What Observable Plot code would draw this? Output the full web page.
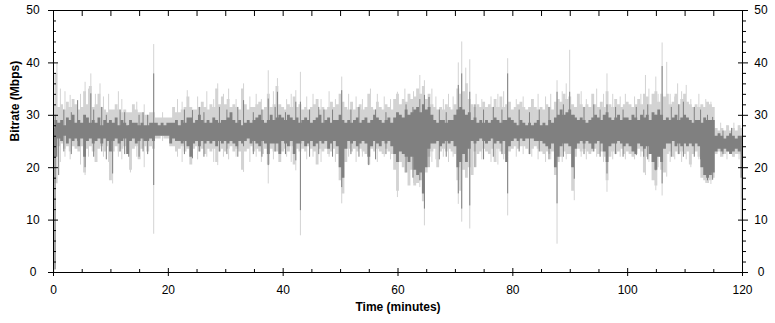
<!DOCTYPE html>
<html>
<head>
<meta charset="utf-8">
<script src="https://cdn.jsdelivr.net/npm/d3@7"></script>
<script src="https://cdn.jsdelivr.net/npm/@observablehq/plot@0.6"></script>
<style>
  html, body { margin: 0; padding: 0; background: #fff; }
  #chart svg { display: block; }
</style>
</head>
<body>
<div id="chart"></div>
<script>
// Sample spacing of the band arrays (minutes)
const STEP = 0.5;

// Dark series: upper and lower envelope per half-minute (Mbps)
const darkHi = [
  27.5, 29, 28.5, 29, 28, 29.5, 29, 30, 28.5, 29, 28.5, 30, 29.5, 28.5, 29, 28.5, 29.5, 28, 29, 28.5,
  29, 28.5, 29.5, 28, 29, 28.5, 28, 29, 28.5, 28.5, 28, 28.5, 28, 28, 28.5, 28.5, 28.5, 28, 28.5, 28,
  28.5, 28.5, 28.5, 29, 28, 29, 28.5, 29.5, 29.5, 28.5, 29, 30, 29, 28.5, 29, 28.5, 29.5, 29, 28.5, 29,
  29, 29.5, 30.5, 29, 28.5, 29, 28, 28.5, 29, 28.5, 29, 29.5, 30, 29, 28.5, 29, 30, 29, 29.5, 30,
  29.5, 29, 30, 29.5, 29, 29.5, 28.5, 29, 29.5, 29, 28.5, 29, 29.5, 30, 28.5, 29, 29.5, 28.5, 29, 29,
  30, 29, 28.5, 29, 28.5, 29, 29.5, 28.5, 29, 29.5, 28.5, 29, 30, 29.5, 29, 28.5, 29, 29.5, 28.5, 29.5,
  30.5, 30, 29.5, 31, 30, 30.5, 31, 31.5, 30.5, 32, 31, 31.5, 30, 29, 28.5, 29, 29, 28.5, 29, 29,
  30, 31, 31.5, 31, 30, 30.5, 29, 29.5, 28.5, 29, 28.5, 29, 28.5, 29, 29.5, 29, 28.5, 29, 29, 29.5,
  29, 28.5, 28, 29, 28.5, 28, 28.5, 28, 28.5, 29, 28, 28.5, 28, 29, 28.5, 29.5, 30, 31, 30, 30.5,
  31, 30, 29.5, 29, 29.5, 29, 28.5, 29, 29.5, 30, 29.5, 29, 30, 30.5, 29.5, 29, 29.5, 30, 29, 29.5,
  29.5, 29, 30, 29.5, 29, 30, 29.5, 30, 29, 30.5, 30, 31, 30, 29, 29.5, 29, 29.5, 30, 29, 29.5,
  30, 29.5, 29, 28.5, 29, 29, 28.5, 29.5, 29, 29, 29, 26, 26.5, 26, 25.5, 26, 26.5, 26, 25.5, 26,
  26
];
const darkLo = [
  0.5, 22, 25.5, 25, 26, 24.5, 25.5, 25, 25.5, 24, 25.5, 22, 25, 25.5, 24.5, 25, 25.5, 24.5, 25.5, 25,
  23, 25, 25.5, 24.5, 25, 25.5, 22.5, 25, 25.5, 24.5, 25, 25.5, 25, 25, 25.5, 25, 26, 26, 26, 26,
  26, 24.5, 25.5, 25, 25, 24.5, 25, 24, 22, 24.5, 25, 24, 25, 24.5, 25, 24.5, 25, 24, 25, 24.5,
  25, 24.5, 25, 24.5, 24, 25, 24.5, 25, 25.5, 24.5, 25, 24.5, 24, 25, 24.5, 22.5, 24.5, 24.5, 24.5, 22.5,
  25, 24.5, 24, 25, 22.5, 24.5, 24.5, 25, 24, 24.5, 25, 24, 24.5, 25, 24.5, 25, 23.5, 24.5, 25, 24,
  20, 18, 23.5, 25, 24.5, 25, 24, 24.5, 25, 24.5, 22, 24, 25, 24.5, 24, 25, 24.5, 25, 24, 22.5,
  21, 23, 22.5, 22, 21, 22, 19.5, 18.5, 19, 15, 20, 23.5, 24.5, 24.5, 25, 24, 24.5, 25, 24.5, 25,
  24, 20, 21, 22.5, 21, 23.5, 25, 24.5, 25, 25.5, 25, 24.5, 25, 25.5, 24.5, 25, 24.5, 25, 21, 24,
  25, 25.5, 25, 25.5, 25, 25.5, 25.5, 25.5, 25, 25, 25, 24.5, 24, 23.5, 24.5, 20, 22, 24, 24.5, 24.5,
  24, 20, 23.5, 24.5, 25, 24.5, 25, 24.5, 23.5, 24.5, 25, 24.5, 23, 21, 24, 24.5, 24.5, 25, 24.5, 24,
  24.5, 24, 23, 22.5, 24.5, 24, 23.5, 24, 22.5, 21, 19.5, 22, 21, 23.5, 24.5, 24.5, 25, 24, 24.5, 24,
  24.5, 24, 24.5, 24, 24.5, 24, 20, 18.5, 18, 18.5, 19, 23, 23.5, 23, 23.5, 23, 22.5, 23, 23.5, 23,
  18
];

// Light series: upper and lower envelope per half-minute (Mbps)
const lightHi = [
  32, 38, 31.5, 32, 31, 32.5, 31.5, 33, 32, 31, 31.5, 34.5, 32, 35.5, 31.5, 32, 34, 31.5, 31, 30.5,
  31, 31, 32, 31, 30.5, 31, 30.5, 30.5, 32, 31, 30.5, 30.5, 30, 30, 30.5, 30.5, 29.5, 29.5, 29.5, 29.5,
  29.5, 29.5, 31.5, 30.5, 30.5, 31, 31.5, 33.5, 31.5, 31, 31, 31.5, 32.5, 31.5, 31, 32, 31.5, 35, 32, 33.5,
  32, 33, 31.5, 32, 31.5, 31, 35, 32, 31, 31.5, 31.5, 32, 32.5, 31, 31.5, 34, 31.5, 32, 35.5, 32,
  31.5, 31, 32, 31.5, 33.5, 31.5, 32, 31, 31.5, 31, 31.5, 32, 33, 31, 31.5, 31, 31.5, 32.5, 31.5, 32,
  34, 32.5, 31.5, 31, 32.5, 31, 31.5, 32, 31, 31.5, 34, 31.5, 31, 32.5, 31.5, 31, 32, 31.5, 31, 33,
  34, 32, 33, 32.5, 34, 33, 33.5, 35, 34, 35.5, 33, 34, 32, 31.5, 31, 31.5, 31, 32, 31.5, 31,
  32, 35, 34, 34.5, 36, 33, 32, 31.5, 32, 31.5, 32.5, 31.5, 32, 31.5, 33, 31.5, 33.5, 31.5, 32, 32.5,
  31, 31.5, 32, 32.5, 31.5, 31, 31.5, 33, 31.5, 31, 31.5, 31, 32, 31.5, 31, 32.5, 33, 32.5, 34, 33,
  33.5, 32, 31.5, 34, 32, 31.5, 32, 31.5, 34, 32, 31.5, 32.5, 31.5, 34.5, 32, 31.5, 33, 32, 31.5, 32,
  32.5, 32, 31.5, 32, 33, 32, 34, 33.5, 32, 34, 34.5, 32.5, 34, 33.5, 34, 32, 32.5, 34, 32, 33,
  34, 32.5, 32, 31.5, 32, 31.5, 32, 31.5, 32.5, 32, 31.5, 27.5, 27, 27.5, 27, 28, 27, 27.5, 27, 28,
  27.5
];
const lightLo = [
  0, 17, 24, 24.5, 23.5, 24, 23, 24, 23.5, 23, 24, 19, 23.5, 24, 23, 21, 23.5, 24, 23, 24,
  17.5, 23, 24, 23, 23.5, 24, 23, 19.5, 23.5, 24, 21.5, 23.5, 24, 23, 24, 23.5, 25.5, 25.5, 26, 25.5,
  25.5, 24, 24, 23, 23.5, 24, 23, 23.5, 20.5, 23.5, 24, 23, 23.5, 22.5, 23.5, 23, 23.5, 21, 23, 23.5,
  23, 23.5, 24, 23, 23.5, 23, 19.5, 23, 23.5, 24, 23, 23.5, 23, 22.5, 23.5, 20.5, 23.5, 23, 23, 21,
  23, 23.5, 23, 24, 20.5, 23.5, 23, 23.5, 23, 24, 23.5, 23, 20.5, 23.5, 23, 23.5, 22.5, 23, 23.5, 22.5,
  17.5, 15, 21, 23.5, 23, 23.5, 23, 23.5, 23, 22.5, 20.5, 23.5, 23, 23.5, 23, 22.5, 23.5, 23, 22.5, 19.5,
  15.5, 21, 20, 19, 16.5, 19.5, 16.5, 17, 17.5, 13.5, 19, 22, 23, 23.5, 20, 23, 23.5, 23, 23.5, 23,
  22.5, 17.5, 15.5, 19.5, 18, 20, 18.5, 23, 22.5, 23, 23.5, 23, 22.5, 23.5, 21, 23.5, 23, 22.5, 21.5, 23,
  23.5, 24, 23.5, 24, 24, 23.5, 22.5, 23.5, 24, 23.5, 23, 22.5, 23, 22.5, 23, 18.5, 21, 22, 23, 22.5,
  22.5, 15.5, 22, 23.5, 23, 23.5, 23, 22.5, 23, 23.5, 22.5, 23, 22, 17.5, 22, 23, 22.5, 23, 23.5, 22.5,
  23, 22.5, 22, 23, 23.5, 23, 19, 22, 22.5, 17.5, 16.5, 22, 19.5, 19, 22.5, 23, 22, 23, 22.5, 23,
  22.5, 23, 20.5, 22.5, 23, 22, 18, 17.5, 17, 17.5, 18, 22.5, 23, 22, 22.5, 23, 22.5, 22, 22.5, 22.5,
  10
];

// Narrow one-sample excursions: [minute, low, high]
const lightSpikes = [
  [0.6, 16.9, 39.8], [5.5, 18.5, 36.3], [6.5, 25, 37.9], [8.1, 26, 36], [10.3, 16.9, 29],
  [13.4, 19, 30], [17.45, 7.3, 43.5], [23.3, 24, 34.7], [28.6, 20.4, 36], [33.1, 19.1, 36],
  [37.4, 16.9, 38.5], [39.0, 26, 37], [42.2, 19.4, 34.7], [43.0, 7, 38.2], [50.2, 13.1, 37.3],
  [55.2, 25, 35], [59.9, 14.3, 34.4], [63.8, 16.2, 37.6], [64.6, 8.9, 36.6], [70.5, 13, 40],
  [71.1, 9.6, 44], [71.8, 25, 39], [72.5, 8.3, 40.6], [79.1, 10.8, 40.8], [87.7, 5.4, 36.6],
  [89.9, 25, 42.4], [90.7, 13.7, 30], [96.4, 15.3, 37.9], [103.1, 18.5, 37.6], [104.9, 15.6, 37.3],
  [106.0, 14.6, 43.8], [106.8, 18.2, 40.1], [108.7, 26, 36], [119.95, 4.1, 27]
];
// Smaller ragged light columns along the whole recording: [minute, low, high]
const lightJitter = [
  [1.2, 21, 35], [2.0, 22, 34.5], [2.9, 21.5, 33.8], [4.7, 20.5, 34], [6.1, 22, 35], [7.3, 21, 34],
  [8.7, 22, 33.5], [9.6, 21, 34], [11.3, 22, 34.5], [11.9, 21.5, 33], [14.5, 22, 32.5], [15.8, 20, 32],
  [19.0, 25, 30.5], [21.6, 22, 33], [22.4, 21, 32.5], [25.1, 21.5, 33.5], [26.7, 22, 34.5], [27.9, 21, 33],
  [29.6, 22, 34], [30.5, 21.5, 35], [31.8, 22, 33], [34.2, 21, 33.5], [35.3, 22, 34], [36.2, 21, 33],
  [38.3, 21.5, 34.5], [40.6, 22, 33], [41.4, 21, 34], [44.1, 21.5, 33.5], [45.2, 22, 34], [46.6, 21, 33],
  [48.0, 22, 34.5], [49.1, 21, 33], [51.4, 22, 34], [52.7, 21, 33.5], [53.8, 22, 33], [56.4, 21, 34],
  [57.6, 22, 33.5], [58.7, 21.5, 33], [61.2, 19, 35], [62.7, 17, 34.5], [65.9, 21, 35], [66.6, 21.5, 33.5],
  [67.9, 22, 33], [68.8, 21, 34], [69.6, 22, 33.5], [73.6, 20, 34], [74.6, 21.5, 33], [76.2, 21, 33.5],
  [77.4, 20.5, 34], [78.4, 21.5, 34.5], [80.6, 22, 33], [81.8, 22.5, 33.5], [83.3, 22, 33], [84.4, 21.5, 34],
  [85.7, 21, 33.5], [86.6, 21.5, 34], [88.6, 21, 34.5], [89.3, 21.5, 36], [91.9, 22, 34.5], [92.8, 21.5, 33],
  [94.6, 22, 35], [95.8, 21, 34], [97.4, 21.5, 34], [98.7, 22, 33.5], [99.6, 21.5, 34], [101.2, 21.5, 33.5],
  [102.3, 22, 34], [103.7, 21, 35], [105.3, 20, 34], [107.4, 21, 34], [108.2, 21.5, 33.5], [109.4, 21, 34.5],
  [110.2, 21.5, 35.7], [111.0, 20, 33], [112.4, 21.5, 34], [113.6, 17, 33], [114.5, 16.8, 32.5],
  [116.2, 22, 28.5], [117.3, 21.5, 28], [118.5, 22, 28.5], [119.4, 21.5, 28]
];
const darkSpikes = [
  [0.3, 0.5, 30], [0.9, 18.5, 27], [4.2, 25, 32.8], [5.5, 20, 28], [6.5, 26, 34.1],
  [10.3, 18.8, 28], [13.1, 22, 28], [17.45, 16.6, 37.9], [24.2, 21.7, 30.9], [33.1, 24, 32.8],
  [37.4, 20.4, 33.1], [39.0, 25, 34.4], [42.2, 21.3, 32.5], [43.0, 11.8, 32.5], [47.1, 25, 31],
  [50.2, 16.2, 34.7], [54.9, 20.4, 28], [59.9, 21.3, 30], [63.8, 17.5, 33], [64.6, 12.1, 33.8],
  [70.5, 15, 35.7], [71.1, 12.1, 37.9], [72.5, 12.7, 34.4], [79.1, 15, 37.9], [87.7, 13.1, 34.4],
  [89.9, 25, 34.4], [90.7, 17.8, 30], [96.4, 18.8, 32], [104.9, 19.4, 30], [106.0, 16.9, 39.3],
  [119.95, 14, 26]
];
// Smaller ragged dark columns: [minute, low, high]
const darkJitter = [
  [1.8, 23, 31], [3.1, 22.5, 30.5], [7.0, 22, 31], [8.4, 23, 31.5], [9.2, 21.5, 30], [11.6, 23, 31],
  [12.4, 22.5, 30.5], [14.9, 22, 30], [15.6, 23, 30.5], [16.4, 22.5, 30], [22.8, 22.5, 31], [25.4, 23, 31.5],
  [26.2, 22, 30.5], [28.9, 23, 31.5], [30.2, 22.5, 31], [32.1, 22, 31.5], [34.8, 22.5, 30.5], [36.3, 22, 31],
  [38.6, 23, 31.5], [40.4, 22.5, 30.5], [44.6, 22, 31], [46.2, 22.5, 31.5], [48.6, 22, 31], [51.8, 22.5, 31],
  [53.2, 22, 31.5], [56.1, 21.5, 31], [57.9, 22.5, 30.5], [61.4, 19, 32], [62.6, 18, 31.5], [65.4, 20, 33.4],
  [67.2, 21.5, 31], [68.4, 22, 30.5], [73.4, 20, 32], [74.9, 21.5, 31], [76.6, 22, 31.5], [78.1, 22.5, 31],
  [81.1, 23, 31], [82.9, 22.5, 30.5], [84.6, 23, 31], [86.3, 21.5, 31.5], [88.8, 22, 32], [92.4, 22.5, 31.5],
  [94.1, 23, 32], [95.2, 22, 31], [97.9, 22.5, 31.5], [99.2, 22, 31], [101.5, 22.3, 31.5], [102.8, 22, 31],
  [103.5, 21.5, 32], [107.6, 22, 31.5], [108.9, 22.5, 32], [109.7, 22, 32.5], [111.6, 22, 31.5], [112.7, 21.5, 31],
  [113.9, 17.5, 30], [114.8, 17.6, 29.6], [116.6, 22.5, 27], [118.1, 22.8, 27.5]
];

// Axis ticks
const yMajor = [0, 10, 20, 30, 40, 50];
const yMinor = [2, 4, 6, 8, 12, 14, 16, 18, 22, 24, 26, 28, 32, 34, 36, 38, 42, 44, 46, 48];
const xMajor = [0, 20, 40, 60, 80, 100, 120];
const xMinor = [5, 10, 15, 25, 30, 35, 45, 50, 55, 65, 70, 75, 85, 90, 95, 105, 110, 115];
const xTop = [0, 5, 10, 15, 20, 25, 30, 35, 40, 45, 50, 55, 60, 65, 70, 75, 80, 85, 90, 95, 100, 105, 110, 115, 120];

const xLabel = "Time (minutes)";
const yLabel = "Bitrate (Mbps)";

const n = Math.min(darkHi.length, darkLo.length, lightHi.length, lightLo.length);
const band = [];
for (let i = 0; i < n; i++) {
  band.push({t: i * STEP, dHi: darkHi[i], dLo: darkLo[i], lHi: lightHi[i], lLo: lightLo[i]});
}
const toObj = (a) => ({t: a[0], lo: a[1], hi: a[2]});
const lSp = lightSpikes.concat(lightJitter).map(toObj);
const dSp = darkSpikes.concat(darkJitter).map(toObj);

const LIGHT = "#d3d3d3";
const DARK = "#808080";

const chart = Plot.plot({
  width: 775,
  height: 323,
  marginLeft: 53,
  marginRight: 33,
  marginTop: 10,
  marginBottom: 51,
  style: {fontFamily: "'Liberation Sans', Arial, sans-serif", fontSize: "12px", background: "#fff", color: "#000"},
  x: {domain: [0, 120]},
  y: {domain: [0, 50]},
  marks: [
    Plot.areaY(band, {x: "t", y1: "lLo", y2: "lHi", curve: "step", fill: LIGHT, clip: true}),
    Plot.ruleX(lSp, {x: "t", y1: "lo", y2: "hi", stroke: LIGHT, strokeWidth: 1, clip: true}),
    Plot.areaY(band, {x: "t", y1: "dLo", y2: "dHi", curve: "step", fill: DARK, clip: true}),
    Plot.ruleX(dSp, {x: "t", y1: "lo", y2: "hi", stroke: DARK, strokeWidth: 1, clip: true}),
    Plot.frame({stroke: "#000"}),
    // left axis
    Plot.axisY({anchor: "left", ticks: yMajor, tickSize: 10, dx: 5, fill: "none", label: null}),
    Plot.axisY({anchor: "left", ticks: yMinor, tickSize: -3, fill: "none", label: null}),
    Plot.axisY({anchor: "left", ticks: yMajor, tickSize: 0, tickPadding: 20.5, textAnchor: "middle", label: null}),
    // right axis
    Plot.axisY({anchor: "right", ticks: yMajor, tickSize: 10, dx: -5, fill: "none", label: null}),
    Plot.axisY({anchor: "right", ticks: yMinor, tickSize: 3, fill: "none", label: null}),
    Plot.axisY({anchor: "right", ticks: yMajor, tickSize: 0, tickPadding: 18.5, textAnchor: "middle", label: null}),
    // bottom axis
    Plot.axisX({anchor: "bottom", ticks: xMajor, tickSize: 8, dy: -4, fill: "none", label: null}),
    Plot.axisX({anchor: "bottom", ticks: xMinor, tickSize: -3, fill: "none", label: null}),
    Plot.axisX({anchor: "bottom", ticks: xMajor, tickSize: 0, tickPadding: 13, label: null}),
    // top axis (ticks only)
    Plot.axisX({anchor: "top", ticks: xTop, tickSize: -5, fill: "none", label: null}),
    // titles
    Plot.text([xLabel], {text: (d) => d, frameAnchor: "bottom", dy: 38, fontWeight: "bold", fontSize: 12}),
    Plot.text([yLabel], {text: (d) => d, frameAnchor: "left", dx: -38, rotate: -90, fontWeight: "bold", fontSize: 12})
  ]
});
document.getElementById("chart").appendChild(chart);
</script>
</body>
</html>
